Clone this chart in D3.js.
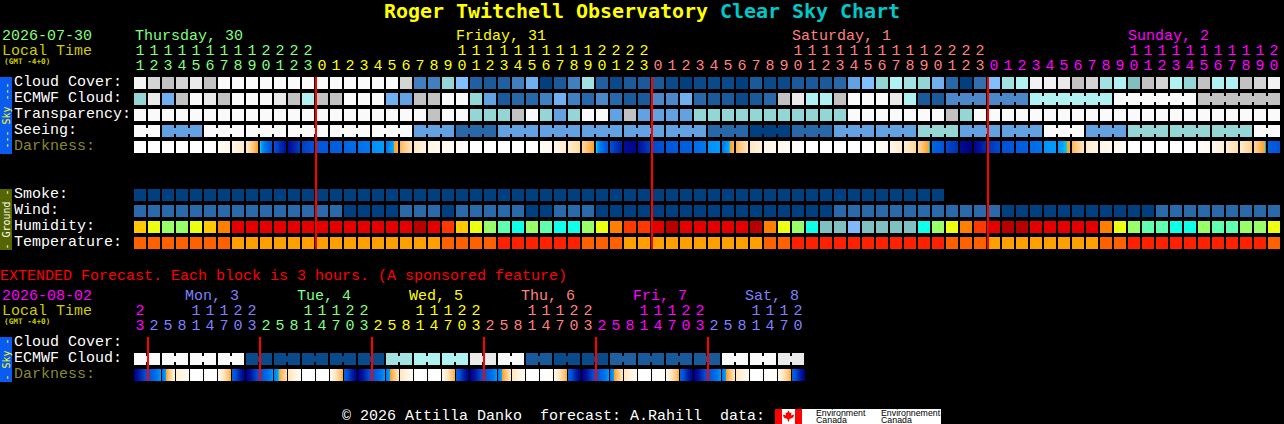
<!DOCTYPE html>
<html><head><meta charset="utf-8">
<script src="https://cdnjs.cloudflare.com/ajax/libs/d3/7.8.5/d3.min.js"></script>
<style>html,body{margin:0;padding:0;background:#000;overflow:hidden}svg{display:block}text{white-space:pre}</style>
</head><body><svg id="c" width="1284" height="424"></svg>
<script>
// ---- DATA ----
const titleParts = ["Roger Twitchell Observatory ", "Clear Sky Chart"];
const mainHours = [11,12,13,14,15,16,17,18,19,20,21,22,23,
  0,1,2,3,4,5,6,7,8,9,10,11,12,13,14,15,16,17,18,19,20,21,22,23,
  0,1,2,3,4,5,6,7,8,9,10,11,12,13,14,15,16,17,18,19,20,21,22,23,
  0,1,2,3,4,5,6,7,8,9,10,11,12,13,14,15,16,17,18,19,20];
const mainDays = ["Thursday, 30","Friday, 31","Saturday, 1","Sunday, 2"];
const mainDayCols = [0,23,47,71];
const extHours = [23,2,5,8,11,14,17,20,23,2,5,8,11,14,17,20,23,2,5,8,11,14,17,20,23,2,5,8,11,14,17,20,23,2,5,8,11,14,17,20,23,2,5,8,11,14,17,20];
const extDays = ["Mon, 3","Tue, 4","Wed, 5","Thu, 6","Fri, 7","Sat, 8"];
const extDayCols = [4,12,20,28,36,44];
const mainRows = ["Cloud Cover:","ECMWF Cloud:","Transparency:","Seeing:","Darkness:"];
const groundRows = ["Smoke:","Wind:","Humidity:","Temperature:"];
const extRows = ["Cloud Cover:","ECMWF Cloud:","Darkness:"];

const cloudCover = [95,85,80,85,90,80,100,100,100,100,100,100,100,100,100,100,100,100,100,85,30,30,60,50,15,10,15,30,45,0,10,30,70,15,5,10,10,10,5,0,5,5,5,0,10,5,5,10,10,10,20,40,50,60,75,70,60,45,20,0,25,50,70,75,95,95,90,80,85,70,75,65,80,85,75,60,80,75,75,80,85,95];
const ecmwfCloud = [60,90,45,80,100,90,80,100,100,100,90,80,75,80,80,100,100,100,45,40,80,80,100,100,60,40,10,20,20,30,45,30,20,35,20,10,10,35,35,45,20,10,10,5,10,20,80,90,75,75,80,100,100,100,90,75,10,10,35,35,35,35,35,35,75,75,75,75,75,75,100,100,100,100,100,100,80,80,80,80,80,80];
const transparency = [100,100,100,100,100,100,100,100,100,100,100,100,100,100,100,100,100,100,100,100,100,80,100,100,60,60,60,80,100,60,40,60,100,100,40,80,40,40,40,40,60,60,60,60,60,60,60,60,60,60,60,100,100,100,100,100,100,100,80,60,100,100,100,100,100,100,100,100,100,100,100,100,100,100,100,100,100,100,100,100,100,100];
const seeing = [100,100,40,40,40,100,100,100,100,100,100,100,100,100,100,100,100,100,100,100,40,40,40,20,20,20,40,40,40,40,40,40,40,40,40,40,40,40,40,40,40,20,20,20,0,0,0,20,20,20,40,40,40,40,40,40,60,60,60,40,40,40,40,40,40,100,100,100,40,40,40,60,60,60,60,60,60,60,60,60,100,100];
// start / end limiting magnitude across each hourly block
const darkStart = [-4,-4,-4,-4,-4,-4,-3.6,-3,-2.2,0,3,5.3,3.5,2.6,2.2,1.8,1.3,0.5,1,-0.6,-2.2,-3,-3.3,-3.7,-4,-4,-4,-4,-4,-3.6,-3.1,-2.4,-1.4,0,3,5.2,5,3.2,2.6,2.2,1.5,0.5,1,-0.6,-2.2,-3,-3.3,-3.7,-4,-4,-4,-4,-4,-3.6,-3.1,-2.4,-1.4,1.8,3.2,5.3,5.6,3.8,3,2.2,1.6,0.4,0.4,-0.6,-2.4,-3,-3.3,-4,-4,-4,-4,-4,-3.7,-3.2,-2.5,-2.3,-1.3,2];
const darkEnd = [-4,-4,-4,-4,-4,-3.7,-3,-2.3,-0.1,2.8,5,3.6,2.9,2.4,2,1.5,1,0.3,-0.4,-2,-2.9,-3.2,-3.6,-3.9,-4,-4,-4,-4,-4,-3.3,-2.5,-1.6,-0.1,2.8,4.6,5.6,3.6,3,2.4,2,1,0.3,-0.5,-2,-2.8,-3.2,-3.6,-3.9,-4,-4,-4,-4,-4,-3.3,-2.5,-1.6,0.1,2.8,4,6,4.2,3.2,2.6,2,1.2,0.3,-0.15,-2,-2.9,-3.2,-3.7,-4,-4,-4,-4,-4,-3.4,-2.6,-1.8,-1.3,0.1,2.8];
const smoke = [0,0,0,0,0,0,0,0,0,0,0,0,0,0,0,0,0,0,0,0,0,0,0,0,0,0,0,0,0,0,0,0,0,0,0,0,0,0,0,0,0,0,0,0,0,0,0,0,0,0,0,0,0,0,0,0,0,0];
const wind = [8,8,8,8,8,8,8,8,8,8,8,8,8,8,8,3,3,3,3,8,8,8,3,8,8,8,8,8,3,3,8,8,8,3,3,3,3,3,3,3,3,3,3,3,3,3,3,3,3,3,8,8,8,8,8,8,8,8,8,8,8,8,3,3,3,3,3,3,3,3,3,3,3,8,8,8,8,8,8,8,8,8];
const humidity = [75,70,65,65,70,75,80,90,90,90,90,90,90,90,90,90,90,90,90,90,100,90,85,75,70,65,60,55,65,60,55,55,65,70,80,85,85,90,100,90,90,90,90,90,100,80,70,65,55,45,45,40,45,45,45,45,55,65,70,80,85,90,100,100,90,90,90,90,90,80,70,65,60,60,55,55,65,60,60,65,65,70];
const temperature = [68,68,68,68,68,68,68,60,60,60,60,60,60,60,60,60,60,60,60,60,60,60,68,68,68,68,77,77,77,77,77,77,68,68,68,60,60,60,60,60,60,60,60,60,60,68,68,77,77,77,77,77,77,77,77,77,77,77,68,68,68,60,60,60,60,60,60,60,60,68,68,77,77,77,77,77,77,77,77,77,77,68];
const extEcmwf = [100,100,100,100,100,100,100,100,5,5,5,5,5,5,5,5,5,5,70,70,75,75,75,75,90,90,100,100,10,10,5,5,5,5,15,15,10,10,10,10,10,10,100,100,100,100,90,90];
const extDarkStart = [5.8,2.8,1.2,-2.6,-4,-4,-3.4,2,6,2.8,0.9,-2,-4,-4,-3.4,2,6,2.8,1,-2.2,-4,-4,-3.4,2,6,2.8,1,-2.2,-4,-4,-3.3,2,6,2.8,1,-2.2,-4,-4,-3.3,2,6,2.8,1,-2.2,-4,-4,-3.3,2];
const extDarkEnd = [3,0.6,-2.5,-3.4,-4,-3.8,-0.6,5.6,3,0.6,-1.5,-3.4,-4,-3.8,-0.6,5.6,3,0.6,-1.8,-3.4,-4,-3.8,-0.6,5.6,3,0.6,-1.8,-3.4,-4,-3.8,-0.6,5.6,3,0.6,-1.8,-3.4,-4,-3.8,-0.6,5.6,3,0.6,-1.8,-3.4,-4,-3.8,-0.6,5.6];

// ---- SCALES ----
const svg = d3.select("#c");
svg.append("rect").attr("width",1284).attr("height",424).attr("fill","#000");
const MONO = "'Liberation Mono', monospace", BIG = "'DejaVu Sans Mono', monospace";
const cloudColor = d3.scaleOrdinal(
  [0,5,10,15,20,25,30,35,40,45,50,60,65,70,75,80,85,90,95,100],
  ["#004080","#0a4a8a","#1a5a9a","#2060a0","#2868a8","#3070b0","#4080c0","#4c88c8","#62a2e2","#70b0f0","#80c0ff","#94d6d6","#80c0c0","#a2e2e2","#b0f2f2","#c2c2c2","#d4d4d4","#eaeaea","#f2f2f2","#fafafa"]);
const windColor = d3.scaleOrdinal([3,8],["#004080","#2a6aaa"]);
const humidColor = d3.scaleOrdinal([40,45,55,60,65,70,75,80,85,90,100],
  ["#80b8f8","#80c0c0","#10ffe8","#60ffb0","#98ff68","#ecff10","#ffc800","#ff8000","#ff3800","#e40000","#b80000"]);
const tempColor = d3.scaleOrdinal([60,68,77],["#ffa000","#ff6000","#ff2000"]);
const darkColor = d3.scaleLinear()
  .domain([-4,-3,-2,-1,-0.01,0,0.2,1,2,3,4,5,6])
  .range(["#ffffff","#fff6e6","#ffe4b8","#ffc880","#ffa020","#00d0e0","#00a0ff","#0078f0","#0060e0","#0050d8","#0030b0","#0010a0","#000080"])
  .clamp(true);
const dayColor = d3.scaleOrdinal(d3.range(5),["#80ff80","#ffff00","#ff8080","#ff00ff","#8080ff"]);
const extDayColor = d3.scaleOrdinal(d3.range(7),["#ff00ff","#8080ff","#80ff80","#ffff00","#ff8080","#ff00ff","#8080ff"]);

const xMain = d3.scaleBand().domain(d3.range(mainHours.length)).range([134,134+mainHours.length*14-2]).paddingInner(2/14);
const xExt  = d3.scaleBand().domain(d3.range(extHours.length)).range([134,134+extHours.length*14-2]).paddingInner(2/14);
const yMain = d3.scaleBand().domain(mainRows).range([77,153]).paddingInner(4/16);
const yGround = d3.scaleBand().domain(groundRows).range([189,249]).paddingInner(4/16);
const yExt = d3.scaleBand().domain(extRows).range([337,381]).paddingInner(4/16);

function txt(x,y,s,fill,opt={}){
  return svg.append("text").attr("x",x).attr("y",y).attr("fill",fill)
    .attr("font-family",opt.family||MONO).attr("font-size",opt.size||15)
    .attr("font-weight",opt.weight||"normal").attr("text-anchor",opt.anchor||"start").text(s);
}
function cells(values,x,yPos,h,color,joined){
  const g = svg.append("g").attr("shape-rendering","crispEdges");
  values.forEach((v,i)=>{
    g.append("rect").attr("x",x(i)).attr("y",yPos).attr("width",x.bandwidth()).attr("height",h).attr("fill",color(v));
    if(joined && i<values.length-1 && joined(i))
      g.append("rect").attr("x",x(i)+x.bandwidth()).attr("y",yPos+3).attr("width",x.step()-x.bandwidth()).attr("height",h-6).attr("fill",color(v));
  });
}
function darkCells(starts,ends,x,yPos,h){
  const g = svg.append("g").attr("shape-rendering","crispEdges");
  const w = x.bandwidth();
  starts.forEach((a,i)=>{
    const t = d3.scaleLinear().domain([0,w-1]).range([a,ends[i]]);
    d3.range(w).forEach(p=>g.append("rect").attr("x",x(i)+p).attr("y",yPos).attr("width",1).attr("height",h).attr("fill",darkColor(t(p))));
  });
}
function hourLabels(hours,x,yTens,yOnes,colorScale){
  let d=0;
  hours.forEach((h,i)=>{
    if(i>0 && h<hours[i-1]) d++;
    const cx=x(i)+x.bandwidth()/2;
    if(h>=10) txt(cx,yTens,String(Math.floor(h/10)),colorScale(d),{anchor:"middle"});
    txt(cx,yOnes,String(h%10),colorScale(d),{anchor:"middle"});
  });
}

// ---- TITLE ----
const title = txt(384,18,"",'#ffff00',{family:BIG,size:20,weight:"bold"}).attr("letter-spacing",-0.04);
title.append("tspan").attr("fill","#ffff00").text(titleParts[0]);
title.append("tspan").attr("fill","#00c8c8").text(titleParts[1]);

// ---- HEADER ----
txt(2,39.5,"2026-07-30","#80ff80");
txt(2,55,"Local Time","#cccc00");
txt(4,64,"(GMT -4+0)","#cccc00",{family:BIG,size:7.7,weight:"bold"});
mainDays.forEach((d,i)=>txt(xMain(mainDayCols[i])+(i?0:1),39.5,d,dayColor(i)));
hourLabels(mainHours,xMain,55,70,dayColor);

// ---- SIDEBARS ----
function sidebar(y0,y1,fill,label,color){
  svg.append("rect").attr("x",0).attr("y",y0).attr("width",12).attr("height",y1-y0).attr("fill",fill).attr("shape-rendering","crispEdges");
  svg.append("text").attr("transform",`translate(9.5,${(y0+y1)/2}) rotate(-90)`).attr("fill",color)
    .attr("font-family",BIG).attr("font-size",10).attr("text-anchor","middle").text(label);
}
sidebar(77,154,"#0a5cf0","--- Sky ---","#ffff00");
sidebar(189,250,"#556600","- Ground -","#ffffff");
sidebar(337,382,"#0a5cf0","- Sky -","#ffff00");

// ---- ROW LABELS ----
const labelColor = s => s==="Darkness:" ? "#888830" : "#ffffff";
mainRows.forEach(r=>txt(14,yMain(r)+9,r,labelColor(r)));
groundRows.forEach(r=>txt(14,yGround(r)+9,r,"#ffffff"));
extRows.forEach(r=>txt(14,yExt(r)+9,r,labelColor(r)));

// ---- MAIN ROWS ----
const bw = yMain.bandwidth();
const ecmwfBlockStarts = [58,61,64,70,76];
cells(cloudCover,xMain,yMain("Cloud Cover:"),bw,cloudColor);
cells(ecmwfCloud,xMain,yMain("ECMWF Cloud:"),bw,cloudColor,i=>i>=58 && !ecmwfBlockStarts.includes(i+1));
cells(transparency,xMain,yMain("Transparency:"),bw,cloudColor);
cells(seeing,xMain,yMain("Seeing:"),bw,cloudColor,i=>(i+2)%3!==0);
darkCells(darkStart,darkEnd,xMain,yMain("Darkness:"),bw);
cells(smoke,xMain,yGround("Smoke:"),bw,windColor.copy().domain([0]).range(["#004080"]));
cells(wind,xMain,yGround("Wind:"),bw,windColor);
cells(humidity,xMain,yGround("Humidity:"),bw,humidColor);
cells(temperature,xMain,yGround("Temperature:"),bw,tempColor);

// midnight markers
const red = svg.append("g").attr("shape-rendering","crispEdges");
mainHours.forEach((h,i)=>{ if(h===0) red.append("rect").attr("x",xMain(i)-1).attr("y",77).attr("width",2).attr("height",172).attr("fill","#ff0000"); });

// ---- EXTENDED ----
txt(0,280,"EXTENDED Forecast. Each block is 3 hours. (A sponsored feature)","#ff0000");
txt(2,300,"2026-08-02","#ff00ff");
txt(2,315,"Local Time","#cccc00");
txt(4,324,"(GMT -4+0)","#cccc00",{family:BIG,size:7.7,weight:"bold"});
extDays.forEach((d,i)=>txt(xExt(extDayCols[i])-5,300,d,extDayColor(i+1)));
hourLabels(extHours,xExt,315,330,extDayColor);
cells(extEcmwf,xExt,yExt("ECMWF Cloud:"),bw,cloudColor,i=>i%2===0);
darkCells(extDarkStart,extDarkEnd,xExt,yExt("Darkness:"),bw);
extHours.forEach((h,i)=>{ if(i>0 && h<extHours[i-1]) red.append("rect").attr("x",xExt(i)-1).attr("y",337).attr("width",2).attr("height",44).attr("fill","#ff0000"); });
red.raise();

// ---- FOOTER ----
txt(342,420,"\u00a9 2026 Attilla Danko  forecast: A.Rahill  data:","#ffffff");
const logo = svg.append("g");
logo.append("rect").attr("x",775).attr("y",409).attr("width",166).attr("height",15).attr("fill","#ffffff").attr("shape-rendering","crispEdges");
[775,795].forEach(x=>logo.append("rect").attr("x",x).attr("y",409).attr("width",7).attr("height",15).attr("fill","#ff0000").attr("shape-rendering","crispEdges"));
logo.append("path").attr("transform","translate(788.5,416.5)").attr("fill","#ff0000")
  .attr("d","M0,-6L1.5,-3.5L3,-4L2.5,-1L5,-2L5.5,-0.5L4,1.5L1,2.5L0.5,5L-0.5,5L-1,2.5L-4,1.5L-5.5,-0.5L-5,-2L-2.5,-1L-3,-4L-1.5,-3.5Z");
[["Environment",816,415.5],["Canada",816,423],["Environnement",881,415.5],["Canada",881,423]].forEach(t=>
  txt(t[1],t[2],t[0],"#000000",{family:"'Liberation Sans', sans-serif",size:8.8}));
</script></body></html>
